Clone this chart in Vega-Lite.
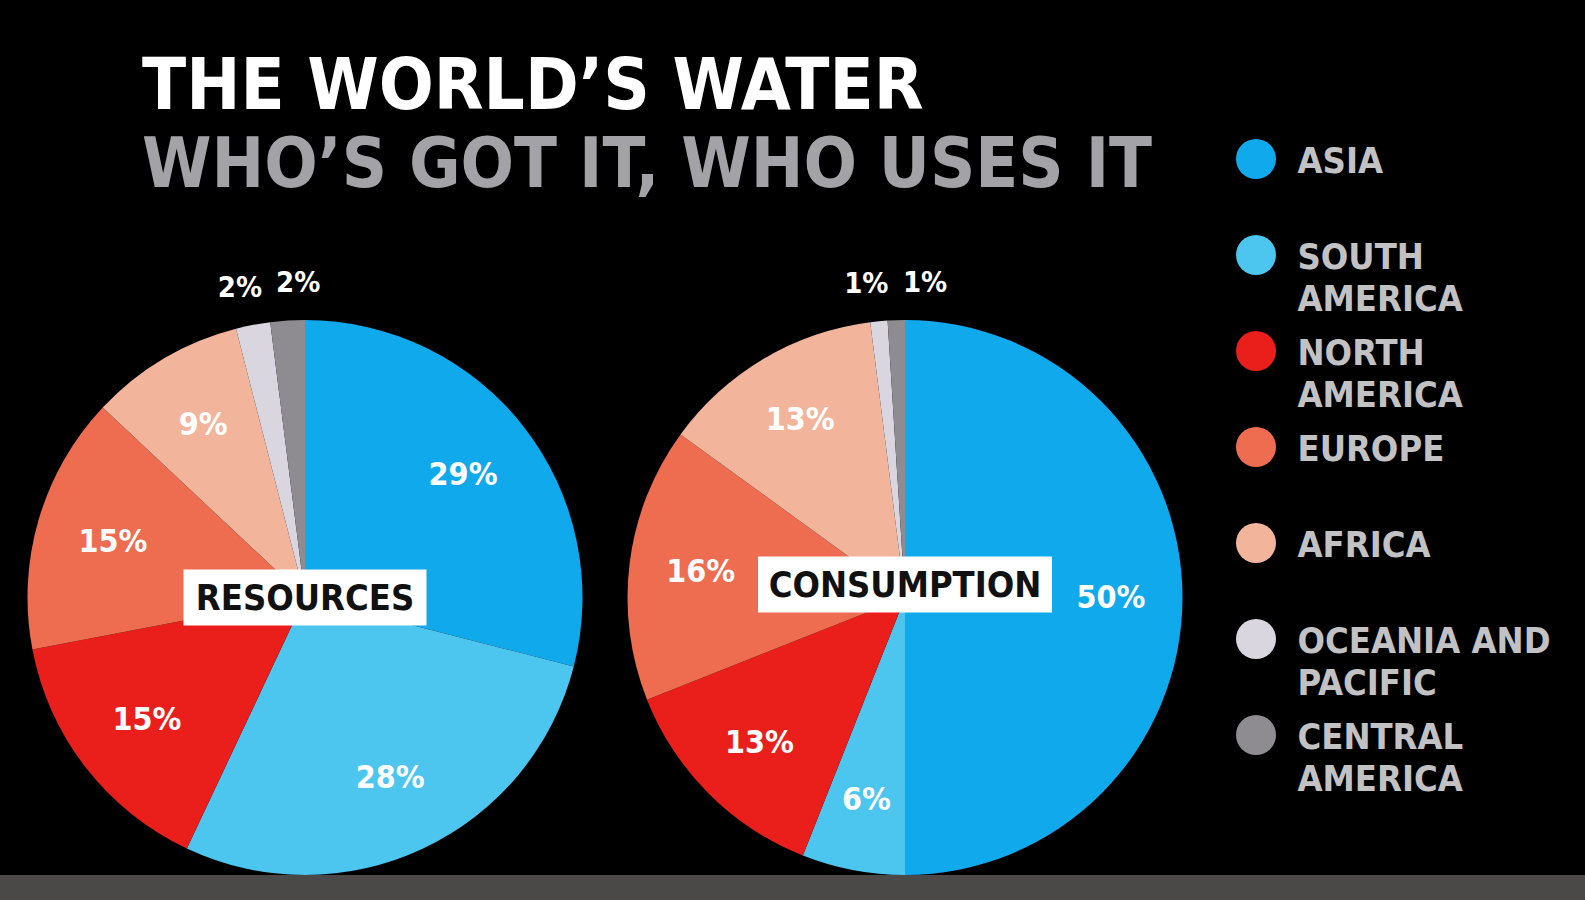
{
  "$schema": "https://vega.github.io/schema/vega-lite/v6.json",
  "background": "#000000",
  "padding": {"top": 50, "left": 0, "right": 0, "bottom": 0},
  "config": {"view": {"stroke": null}, "font": "DejaVu Sans Condensed"},
  "datasets": {
    "water": [
      {"chart": "Resources", "region": "Asia", "share": 0.29, "order": 1},
      {"chart": "Resources", "region": "South America", "share": 0.28, "order": 2},
      {"chart": "Resources", "region": "North America", "share": 0.15, "order": 3},
      {"chart": "Resources", "region": "Europe", "share": 0.15, "order": 4},
      {"chart": "Resources", "region": "Africa", "share": 0.09, "order": 5},
      {"chart": "Resources", "region": "Oceania and Pacific", "share": 0.02, "order": 6},
      {"chart": "Resources", "region": "Central America", "share": 0.02, "order": 7},
      {"chart": "Consumption", "region": "Asia", "share": 0.50, "order": 1},
      {"chart": "Consumption", "region": "South America", "share": 0.06, "order": 2},
      {"chart": "Consumption", "region": "North America", "share": 0.13, "order": 3},
      {"chart": "Consumption", "region": "Europe", "share": 0.16, "order": 4},
      {"chart": "Consumption", "region": "Africa", "share": 0.13, "order": 5},
      {"chart": "Consumption", "region": "Oceania and Pacific", "share": 0.01, "order": 6},
      {"chart": "Consumption", "region": "Central America", "share": 0.01, "order": 7}
    ]
  },
  "data": {"name": "water"},
  "spacing": 0,
  "vconcat": [
    {
      "spacing": 36,
      "hconcat": [
        {
          "title": {
            "text": "THE WORLD’S WATER",
            "subtitle": "WHO’S GOT IT, WHO USES IT",
            "anchor": "start",
            "frame": "group",
            "dx": 142,
            "offset": 67,
            "font": "DejaVu Sans Condensed",
            "fontSize": 72,
            "fontWeight": "bold",
            "color": "#ffffff",
            "subtitleFont": "DejaVu Sans Condensed",
            "subtitleFontSize": 70,
            "subtitleFontWeight": "bold",
            "subtitleColor": "#a3a2a6",
            "subtitlePadding": 8
          },
          "spacing": 0,
          "hconcat": [
            {
              "width": 610,
              "height": 555,
              "transform": [{"filter": "datum.chart === 'Resources'"}],
              "encoding": {
                "theta": {"field": "share", "type": "quantitative", "stack": true, "scale": {"domain": [0, 1]}},
                "order": {"field": "order", "type": "quantitative"},
                "color": {
                  "field": "region",
                  "type": "nominal",
                  "scale": {
                    "domain": ["Asia", "South America", "North America", "Europe", "Africa", "Oceania and Pacific", "Central America"],
                    "range": ["#10a9ec", "#4cc5ef", "#ea1f1c", "#ee6c4f", "#f3b49c", "#d9d6df", "#8e8c90"]
                  },
                  "legend": null
                }
              },
              "layer": [
                {"mark": {"type": "arc", "radius": 277.5}},
                {
                  "mark": {"type": "text", "radius": 200, "fontSize": 32, "fontWeight": "bold", "font": "DejaVu Sans Condensed"},
                  "encoding": {
                    "color": {"value": "#ffffff"},
                    "text": {"condition": {"test": "datum.share >= 0.05", "field": "share", "type": "quantitative", "format": ".0%"}, "value": ""}
                  }
                },
                {
                  "mark": {"type": "text", "dx": -6, "fontSize": 29, "fontWeight": "bold", "font": "DejaVu Sans Condensed"},
                  "encoding": {
                    "radius": {"field": "share", "type": "quantitative", "scale": {"type": "linear", "domain": [0.02, 0.03], "range": [315, 0], "clamp": true, "zero": false, "nice": false}},
                    "color": {"value": "#ffffff"},
                    "text": {"condition": {"test": "datum.region === 'Oceania and Pacific'", "field": "share", "type": "quantitative", "format": ".0%"}, "value": ""}
                  }
                },
                {
                  "mark": {"type": "text", "dx": 13, "fontSize": 29, "fontWeight": "bold", "font": "DejaVu Sans Condensed"},
                  "encoding": {
                    "radius": {"field": "share", "type": "quantitative", "scale": {"type": "linear", "domain": [0.02, 0.03], "range": [315, 0], "clamp": true, "zero": false, "nice": false}},
                    "color": {"value": "#ffffff"},
                    "text": {"condition": {"test": "datum.region === 'Central America'", "field": "share", "type": "quantitative", "format": ".0%"}, "value": ""}
                  }
                },
                {
                  "transform": [{"filter": "datum.order === 1"}],
                  "mark": {"type": "point", "filled": true, "opacity": 1, "size": 59049, "shape": "M-1,-0.2305L1,-0.2305L1,0.2305L-1,0.2305Z"},
                  "encoding": {"theta": null, "order": null, "color": {"value": "#ffffff"}}
                },
                {
                  "transform": [{"filter": "datum.order === 1"}],
                  "mark": {"type": "text", "fontSize": 36, "fontWeight": "bold", "font": "DejaVu Sans Condensed", "baseline": "middle", "dy": 1},
                  "encoding": {"theta": null, "order": null, "color": {"value": "#111111"}, "text": {"value": "RESOURCES"}}
                }
              ]
            },
            {
              "width": 590,
              "height": 555,
              "transform": [{"filter": "datum.chart === 'Consumption'"}],
              "encoding": {
                "theta": {"field": "share", "type": "quantitative", "stack": true, "scale": {"domain": [0, 1]}},
                "order": {"field": "order", "type": "quantitative"},
                "color": {"field": "region", "type": "nominal", "legend": null}
              },
              "layer": [
                {"mark": {"type": "arc", "radius": 277.5}},
                {
                  "mark": {"type": "text", "radius": 206, "fontSize": 32, "fontWeight": "bold", "font": "DejaVu Sans Condensed"},
                  "encoding": {
                    "color": {"value": "#ffffff"},
                    "text": {"condition": {"test": "datum.share >= 0.05", "field": "share", "type": "quantitative", "format": ".0%"}, "value": ""}
                  }
                },
                {
                  "mark": {"type": "text", "dx": -9, "fontSize": 29, "fontWeight": "bold", "font": "DejaVu Sans Condensed"},
                  "encoding": {
                    "radius": {"field": "share", "type": "quantitative", "scale": {"type": "linear", "domain": [0.02, 0.03], "range": [315, 0], "clamp": true, "zero": false, "nice": false}},
                    "color": {"value": "#ffffff"},
                    "text": {"condition": {"test": "datum.region === 'Oceania and Pacific'", "field": "share", "type": "quantitative", "format": ".0%"}, "value": ""}
                  }
                },
                {
                  "mark": {"type": "text", "dx": 30, "fontSize": 29, "fontWeight": "bold", "font": "DejaVu Sans Condensed"},
                  "encoding": {
                    "radius": {"field": "share", "type": "quantitative", "scale": {"type": "linear", "domain": [0.02, 0.03], "range": [315, 0], "clamp": true, "zero": false, "nice": false}},
                    "color": {"value": "#ffffff"},
                    "text": {"condition": {"test": "datum.region === 'Central America'", "field": "share", "type": "quantitative", "format": ".0%"}, "value": ""}
                  }
                },
                {
                  "transform": [{"filter": "datum.order === 1"}],
                  "mark": {"type": "point", "filled": true, "opacity": 1, "size": 86436, "yOffset": -13, "shape": "M-1,-0.1905L1,-0.1905L1,0.1905L-1,0.1905Z"},
                  "encoding": {"theta": null, "order": null, "color": {"value": "#ffffff"}}
                },
                {
                  "transform": [{"filter": "datum.order === 1"}],
                  "mark": {"type": "text", "fontSize": 36, "fontWeight": "bold", "font": "DejaVu Sans Condensed", "baseline": "middle", "dy": -12},
                  "encoding": {"theta": null, "order": null, "color": {"value": "#111111"}, "text": {"value": "CONSUMPTION"}}
                }
              ]
            }
          ]
        },
        {
          "width": 40,
          "height": 555,
          "transform": [{"filter": "datum.chart === 'Resources'"}],
          "mark": {"type": "point", "filled": true, "opacity": 1, "size": 1600, "shape": "circle", "yOffset": -140},
          "encoding": {
            "y": {
              "field": "region",
              "type": "nominal",
              "sort": ["Asia", "South America", "North America", "Europe", "Africa", "Oceania and Pacific", "Central America"],
              "scale": {"type": "point", "padding": 0, "range": [-21, 555]},
              "axis": {
                "orient": "right",
                "position": -21,
                "title": null,
                "domain": false,
                "ticks": false,
                "grid": false,
                "labelPadding": 21,
                "labelAlign": "left",
                "labelBaseline": "alphabetic",
                "labelOffset": -106,
                "labelFont": "DejaVu Sans Condensed",
                "labelFontSize": 36,
                "labelFontWeight": "bold",
                "labelColor": "#c2c2c4",
                "labelLineHeight": 42,
                "labelOverlap": false,
                "labelBound": false,
                "labelFlush": false,
                "labelLimit": 0,
                "labelExpr": "datum.label === 'Oceania and Pacific' ? ['OCEANIA AND', 'PACIFIC'] : split(upper(datum.label), ' ')"
              }
            },
            "color": {"field": "region", "type": "nominal", "legend": null}
          }
        }
      ]
    },
    {
      "width": 1585,
      "height": 25,
      "transform": [{"aggregate": [{"op": "count", "as": "n"}]}],
      "mark": {"type": "rect", "color": "#4a4948", "opacity": 1},
      "encoding": {}
    }
  ]
}
